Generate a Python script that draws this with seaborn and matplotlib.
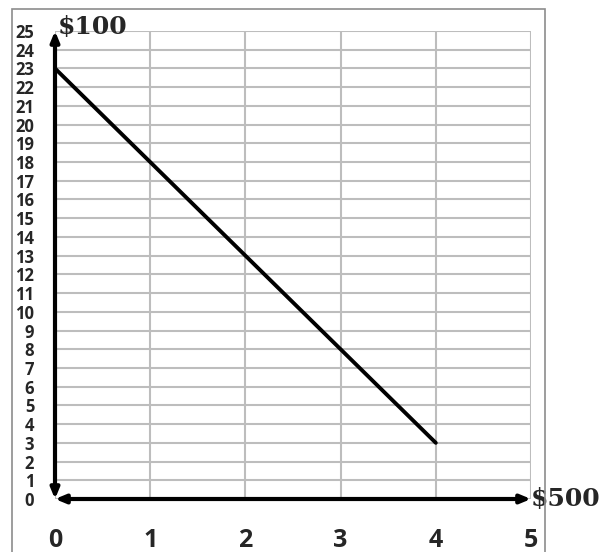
import seaborn as sns
import matplotlib.pyplot as plt
from matplotlib.patches import Rectangle

# chart data
x_vals = [0, 4]
y_vals = [23, 3]
x_ticks = [0, 1, 2, 3, 4, 5]
y_ticks = list(range(0, 26))
y_axis_label = "$100"
x_axis_label = "$500"

sns.set_style("white")
plt.rcParams["font.family"] = ["Open Sans", "DejaVu Sans"]

fig = plt.figure(figsize=(6.11, 5.52), dpi=100)
ax = fig.add_axes([55 / 611, 53 / 552, 476 / 611, 468 / 552])

# outer frame
fig.patches.append(Rectangle((12 / 611, -0.02), 533 / 611, 1.02 - 9 / 552,
                             transform=fig.transFigure, fill=False,
                             edgecolor="#8c8c8c", lw=1.2))

ax.set_xlim(0, 5)
ax.set_ylim(0, 25)
ax.set_xticks(x_ticks)
ax.set_yticks(y_ticks)
ax.set_xticklabels([str(v) for v in x_ticks], fontsize=18, fontweight="bold")
ax.set_yticklabels([str(v) for v in y_ticks], fontsize=12, fontweight="bold")
ax.tick_params(axis="x", length=0, pad=21)
ax.tick_params(axis="y", length=0, pad=15)
ax.grid(True, color="#bdbdbd", lw=1.5)
for s in ax.spines.values():
    s.set_visible(False)

sns.lineplot(x=x_vals, y=y_vals, color="black", lw=2.8, ax=ax)

# double-headed axes
arrow = dict(arrowstyle="<|-|>,head_length=0.6,head_width=0.25", lw=3,
             color="black", shrinkA=0, shrinkB=0)
ax.annotate("", xy=(0, 25), xytext=(0, 0), arrowprops=arrow, annotation_clip=False)
ax.annotate("", xy=(5, 0), xytext=(0, 0), arrowprops=arrow, annotation_clip=False)

ax.text(0.03, 25.2, y_axis_label, fontsize=18, fontweight="bold",
        family="DejaVu Serif", ha="left", va="center", clip_on=False)
ax.text(5.0, 0, x_axis_label, fontsize=18, fontweight="bold",
        family="DejaVu Serif", ha="left", va="center", clip_on=False)

fig.savefig("out.png", dpi=100)
